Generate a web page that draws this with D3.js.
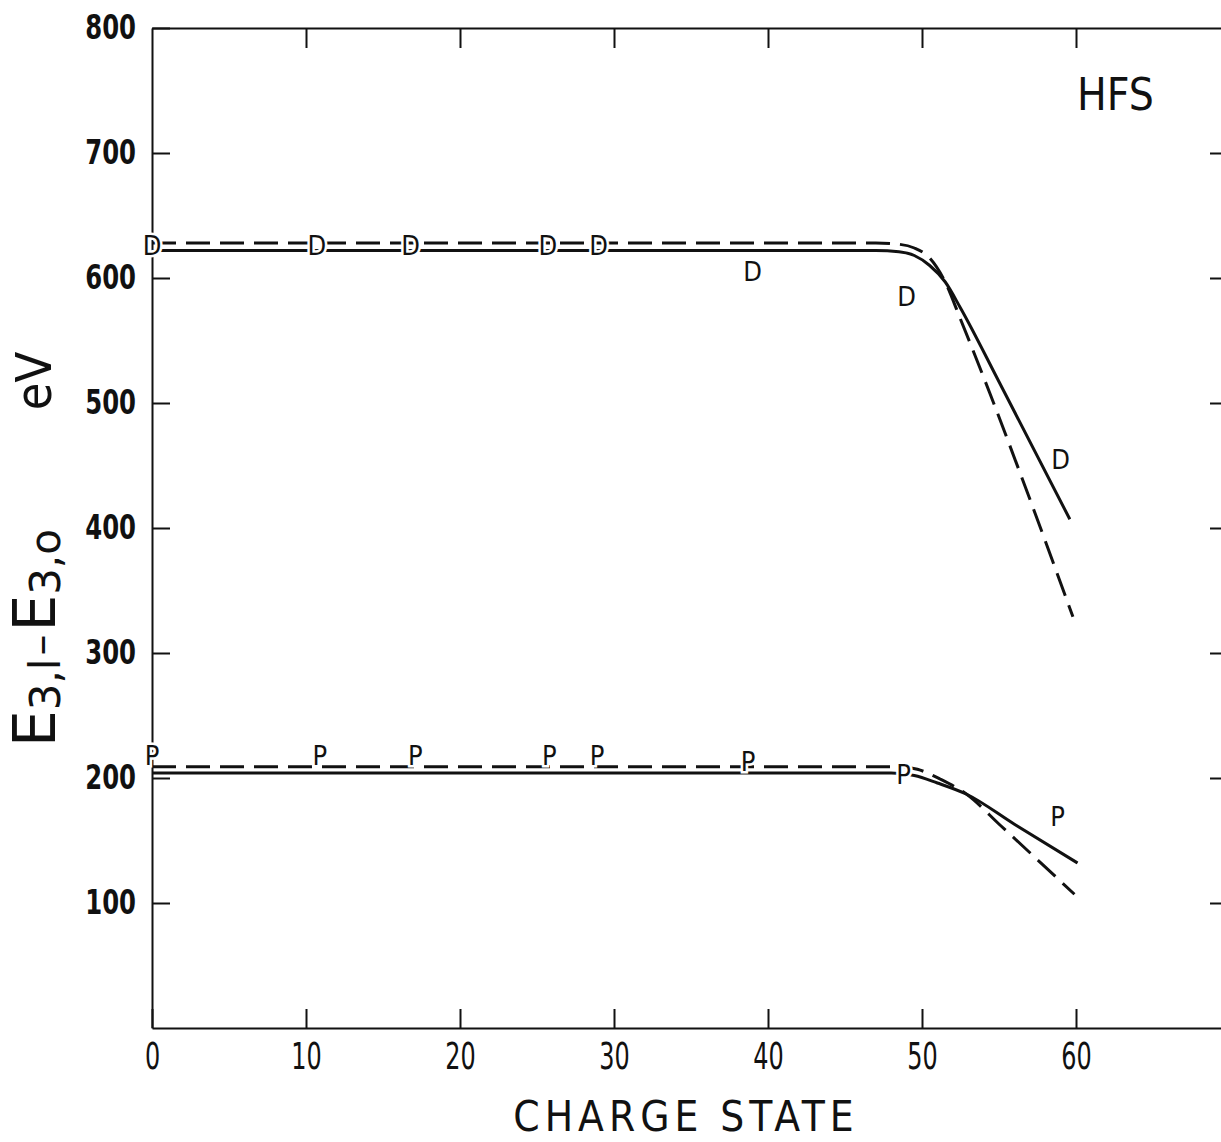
<!DOCTYPE html>
<html>
<head>
<meta charset="utf-8">
<script src="https://cdn.jsdelivr.net/npm/d3@7"></script>
<style>
  body { margin: 0; background: #fff; }
  svg { display: block; }
  .tick text { fill: #111; }
</style>
</head>
<body>
<svg id="chart" width="1221" height="1142"></svg>
<script>
// data (charge state, eV)
// upper pair: D curves
const dSolidX = [0, 47, 48.5, 49.5, 50.5, 51.5, 52.5, 55, 59.6]
const dSolidY = [622, 622, 621, 618, 610, 597, 576, 517, 407]
const dDashX = [0, 47, 48.5, 49.5, 50.5, 51.5, 52.5, 54.4, 56.4, 59.8]
const dDashY = [628, 628, 627, 624, 616, 597, 567, 508, 443, 329]
// lower pair: P curves
const pSolidX = [0, 48, 49.5, 51, 52.9, 56, 60.1]
const pSolidY = [204, 204, 202, 196, 187, 163, 132]
const pDashX = [0, 48.5, 49.7, 51.2, 52.9, 55.1, 59.9]
const pDashY = [209, 209, 207, 199, 187, 162, 107]

// letter markers
const dMarkX = [0, 10.7, 16.8, 25.7, 29, 39, 49, 59]
const dMarkY = [626, 626, 626, 626, 626, 605, 585, 455]
const pMarkX = [0, 10.9, 17.1, 25.8, 28.9, 38.7, 48.8, 58.8]
const pMarkY = [218, 218, 218, 218, 218, 213, 203, 169]

// axis ticks
const xTicks = [0, 10, 20, 30, 40, 50, 60]
const xTicksTop = [10, 20, 30, 40, 50, 60, 70]
const yTicks = [100, 200, 300, 400, 500, 600, 700, 800]
const yTicksRight = [100, 200, 300, 400, 500, 600, 700]

const narrow = '"Liberation Sans Narrow", "DejaVu Sans Condensed", sans-serif'

const svg = d3.select('#chart')

const x = d3.scaleLinear().domain([0, 70]).range([152, 1230])
const y = d3.scaleLinear().domain([0, 800]).range([1028, 28])

// axes, ticks drawn inward
function styleAxis(g) {
  g.select('.domain').attr('stroke', '#111').attr('stroke-width', 2)
  g.selectAll('.tick line').attr('stroke', '#111').attr('stroke-width', 2)
}

const xLabelScale = 0.72
svg.append('g')
  .attr('transform', 'translate(0,' + y(0) + ')')
  .call(d3.axisBottom(x).tickValues(xTicks).tickSizeInner(-19).tickSizeOuter(0).tickPadding(15))
  .call(styleAxis)
  .call(g => g.selectAll('.tick text')
    .attr('font-family', narrow).attr('font-size', 37)
    .attr('transform', 'scale(' + xLabelScale + ',1)'))

svg.append('g')
  .attr('transform', 'translate(0,' + y(800) + ')')
  .call(d3.axisTop(x).tickValues(xTicksTop).tickSizeInner(-20).tickSizeOuter(0).tickFormat(''))
  .call(styleAxis)

const yLabelScale = 0.82
svg.append('g')
  .attr('transform', 'translate(' + x(0) + ',0)')
  .call(d3.axisLeft(y).tickValues(yTicks).tickSizeInner(-18).tickSizeOuter(0).tickPadding(16))
  .call(styleAxis)
  .call(g => g.selectAll('.tick text')
    .attr('font-family', narrow).attr('font-weight', 'bold').attr('font-size', 33)
    .attr('x', -16 / yLabelScale)
    .attr('transform', 'scale(' + yLabelScale + ',1)'))

svg.append('g')
  .attr('transform', 'translate(' + x(70) + ',0)')
  .call(d3.axisRight(y).tickValues(yTicksRight).tickSizeInner(-20).tickSizeOuter(0).tickFormat(''))
  .call(styleAxis)

// curves
const line = d3.line()
  .x(d => x(d[0]))
  .y(d => y(d[1]))
  .curve(d3.curveMonotoneX)

function drawCurve(xs, ys, dashed) {
  svg.append('path')
    .datum(xs.map((v, i) => [v, ys[i]]))
    .attr('fill', 'none')
    .attr('stroke', '#111')
    .attr('stroke-width', 3)
    .attr('stroke-dasharray', dashed ? '24,10' : null)
    .attr('d', line)
}

drawCurve(dSolidX, dSolidY, false)
drawCurve(dDashX, dDashY, true)
drawCurve(pSolidX, pSolidY, false)
drawCurve(pDashX, pDashY, true)

// letter markers with a white halo so the lines break around them
function drawMarks(xs, ys, letter) {
  svg.append('g')
    .selectAll('text')
    .data(xs.map((v, i) => [v, ys[i]]))
    .enter()
    .append('text')
    .attr('x', d => x(d[0]))
    .attr('y', d => y(d[1]))
    .attr('text-anchor', 'middle')
    .attr('dominant-baseline', 'central')
    .attr('font-family', narrow)
    .attr('font-size', 27)
    .attr('fill', '#111')
    .attr('stroke', '#fff')
    .attr('stroke-width', 5)
    .attr('paint-order', 'stroke')
    .text(letter)
}

drawMarks(dMarkX, dMarkY, 'D')
drawMarks(pMarkX, pMarkY, 'P')

// labels
svg.append('text')
  .attr('x', 1077)
  .attr('y', 110)
  .attr('font-family', narrow)
  .attr('font-size', 44)
  .attr('fill', '#111')
  .text('HFS')

svg.append('text')
  .attr('x', 686)
  .attr('y', 1131)
  .attr('text-anchor', 'middle')
  .attr('font-family', narrow)
  .attr('font-size', 42)
  .attr('letter-spacing', 5)
  .attr('fill', '#111')
  .text('CHARGE STATE')

svg.append('text')
  .attr('transform', 'translate(51,381) rotate(-90)')
  .attr('text-anchor', 'middle')
  .attr('font-family', narrow)
  .attr('font-size', 50)
  .attr('fill', '#111')
  .text('eV')

const yTitle = svg.append('text')
  .attr('transform', 'translate(55,638) rotate(-90)')
  .attr('text-anchor', 'middle')
  .attr('font-family', '"DejaVu Sans", sans-serif')
  .attr('font-size', 58)
  .attr('fill', '#111')
yTitle.append('tspan').text('E')
yTitle.append('tspan').attr('font-size', 42).attr('dy', 5).text('3,l')
yTitle.append('tspan').attr('font-size', 42).attr('dy', -5).attr('dx', 3).text('–')
yTitle.append('tspan').attr('dx', 3).text('E')
yTitle.append('tspan').attr('font-size', 42).attr('dy', 5).text('3,o')
</script>
</body>
</html>
